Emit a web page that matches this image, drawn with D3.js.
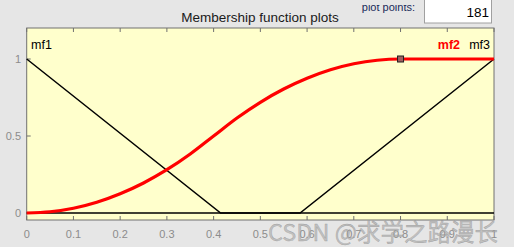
<!DOCTYPE html>
<html>
<head>
<meta charset="utf-8">
<script src="https://cdnjs.cloudflare.com/ajax/libs/d3/7.8.5/d3.min.js"></script>
<style>
  body { margin: 0; background: #e6e6e6; }
  svg { display: block; font-family: "Liberation Sans", Arial, sans-serif; }
</style>
</head>
<body>
<svg></svg>
<script>
let width = 514,
    height = 247,
    svg = d3.select("svg")
        .attr("width", width)
        .attr("height", height)

// data
let xTicks = [0, 0.1, 0.2, 0.3, 0.4, 0.5, 0.6, 0.7, 0.8, 0.9, 1];
let yTicks = [0, 0.5, 1];
let mf1 = [[0, 1], [0.415, 0], [1, 0]];
let mf3 = [[0, 0], [0.585, 0], [1, 1]];
let mf2x = [0, 0.05, 0.1, 0.15, 0.2, 0.25, 0.3, 0.35, 0.4, 0.45, 0.5, 0.55, 0.6, 0.65, 0.7, 0.75, 0.8, 0.85, 0.9, 0.95, 1];
let mf2y = [0, 0.008, 0.031, 0.07, 0.125, 0.195, 0.281, 0.383, 0.5, 0.617, 0.719, 0.805, 0.875, 0.93, 0.969, 0.992, 1, 1, 1, 1, 1];
let mfNames = ["mf1", "mf2", "mf3"];
let plotPoints = 181;

let pLeft = 26.7, pRight = 494, pTop = 28, pBottom = 220;

let x = d3.scaleLinear().domain([0, 1]).range([pLeft, pRight]);
let y = d3.scaleLinear().domain([0, 1]).range([213, 59]);

// title + plot points box
svg.append("text").attr("x", 260).attr("y", 22).attr("text-anchor", "middle")
    .attr("font-size", 13.5).attr("fill", "#1a1a1a").text("Membership function plots");

// label is cut off at its top in the original window
svg.append("clipPath").attr("id", "ppclip")
    .append("rect").attr("x", 300).attr("y", 5).attr("width", 120).attr("height", 20);
svg.append("text").attr("x", 415).attr("y", 11).attr("text-anchor", "end")
    .attr("clip-path", "url(#ppclip)")
    .attr("font-size", 11).attr("fill", "#1a2a5a").text("plot points:");
svg.append("rect").attr("x", 424.5).attr("y", -1).attr("width", 67).attr("height", 24)
    .attr("fill", "#fff").attr("stroke", "#a0a0a0");
svg.append("text").attr("x", 489).attr("y", 17).attr("text-anchor", "end")
    .attr("font-size", 13.5).attr("fill", "#000").text(plotPoints);

// plot area
svg.append("rect").attr("x", pLeft).attr("y", pTop).attr("width", pRight - pLeft).attr("height", pBottom - pTop)
    .attr("fill", "#ffffcc").attr("stroke", "#707070");

// ticks
xTicks.forEach(t => {
    svg.append("line").attr("x1", x(t)).attr("x2", x(t)).attr("y1", pTop).attr("y2", pTop + 4).attr("stroke", "#707070");
    svg.append("line").attr("x1", x(t)).attr("x2", x(t)).attr("y1", pBottom).attr("y2", pBottom - 4).attr("stroke", "#707070");
    svg.append("text").attr("x", x(t)).attr("y", 238).attr("text-anchor", "middle")
        .attr("font-size", 11).attr("fill", "#8c8c8c").text(t);
});
yTicks.forEach(t => {
    svg.append("line").attr("x1", pLeft).attr("x2", pLeft + 4).attr("y1", y(t)).attr("y2", y(t)).attr("stroke", "#707070");
    svg.append("text").attr("x", 21).attr("y", y(t) + 4).attr("text-anchor", "end")
        .attr("font-size", 11).attr("fill", "#8c8c8c").text(t);
});

let line = d3.line().x(d => x(d[0])).y(d => y(d[1]));

svg.append("path").datum(mf1).attr("d", line).attr("fill", "none").attr("stroke", "#000").attr("stroke-width", 1.5);
svg.append("path").datum(mf3).attr("d", line).attr("fill", "none").attr("stroke", "#000").attr("stroke-width", 1.5);
svg.append("path").datum(mf2x.map((v, i) => [v, mf2y[i]]))
    .attr("d", line.curve(d3.curveMonotoneX)).attr("fill", "none").attr("stroke", "#ff0000").attr("stroke-width", 3.2);

// selected marker
svg.append("rect").attr("x", x(0.8) - 3).attr("y", y(1) - 3).attr("width", 6).attr("height", 6)
    .attr("fill", "#a06060").attr("stroke", "#202020").attr("stroke-width", 1);

// labels
svg.append("text").attr("x", 31).attr("y", 49).attr("font-size", 12.5).attr("fill", "#000").text(mfNames[0]);
svg.append("text").attr("x", 460).attr("y", 49).attr("text-anchor", "end").attr("font-size", 12.5)
    .attr("font-weight", "bold").attr("fill", "#ff0000").text(mfNames[1]);
svg.append("text").attr("x", 490).attr("y", 49).attr("text-anchor", "end").attr("font-size", 12.5)
    .attr("fill", "#000").text(mfNames[2]);

// watermark
svg.append("text").attr("x", 268).attr("y", 241).attr("font-size", 23.5)
    .attr("font-family", "'Noto Sans CJK SC', sans-serif")
    .attr("fill", "#b0b0b0").attr("fill-opacity", 0.7)
    .attr("stroke", "#808080").attr("stroke-width", 0.4).attr("stroke-opacity", 0.6)
    .text("CSDN @求学之路漫长");
</script>
</body>
</html>
